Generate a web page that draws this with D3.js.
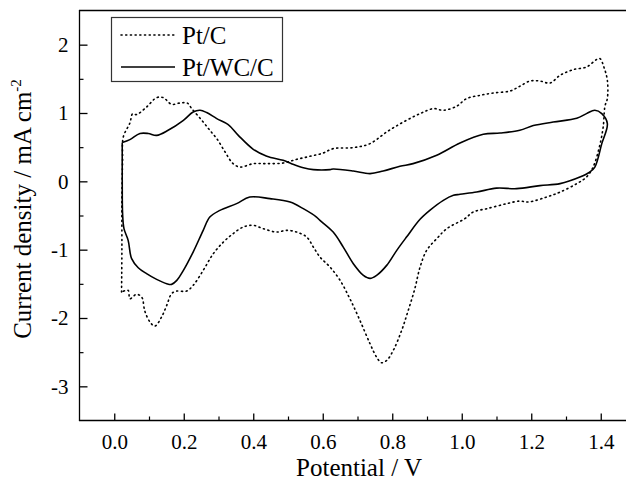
<!DOCTYPE html>
<html>
<head>
<meta charset="utf-8">
<script src="https://cdn.jsdelivr.net/npm/d3@7"></script>
<style>
html,body{margin:0;padding:0;background:#fff;overflow:hidden;}
svg{display:block;}
text{font-family:"Liberation Serif","Times New Roman",serif;fill:#000;}
</style>
</head>
<body>
<svg id="chart" width="626" height="482"></svg>
<script>
// ---- Data (Potential / V, Current density / mA cm-2) ----
const seriesNames = ["Pt/C", "Pt/WC/C"];

const ptcPotential = [0.021,0.022,0.022,0.024,0.026,0.045,0.053,0.064,0.093,0.122,0.141,0.165,0.189,0.21,0.223,0.252,0.275,0.295,0.319,0.342,0.362,0.40,0.439,0.486,0.525,0.563,0.601,0.63,0.688,0.736,0.784,0.832,0.88,0.918,0.947,0.985,1.014,1.053,1.091,1.139,1.167,1.196,1.225,1.254,1.283,1.321,1.359,1.388,1.398,1.409,1.419,1.419,1.412,1.407,1.396,1.378,1.359,1.331,1.283,1.244,1.191,1.167,1.129,1.072,1.033,1.009,0.957,0.928,0.899,0.88,0.865,0.846,0.827,0.803,0.784,0.769,0.755,0.736,0.707,0.678,0.65,0.621,0.592,0.573,0.554,0.525,0.496,0.467,0.429,0.40,0.371,0.342,0.314,0.285,0.256,0.227,0.208,0.18,0.165,0.151,0.136,0.117,0.103,0.088,0.079,0.064,0.045,0.04,0.021];
const ptcCurrent = [-1.62,-1.01,-0.28,0.31,0.649,0.854,0.991,0.977,1.088,1.225,1.225,1.127,1.146,1.146,1.064,0.893,0.747,0.625,0.429,0.259,0.209,0.259,0.259,0.268,0.322,0.366,0.414,0.479,0.493,0.552,0.722,0.868,0.991,1.064,1.04,1.098,1.211,1.259,1.293,1.322,1.391,1.468,1.468,1.439,1.552,1.635,1.673,1.782,1.796,1.673,1.479,1.211,1.098,0.795,0.502,0.209,0.063,-0.034,-0.157,-0.23,-0.303,-0.288,-0.327,-0.40,-0.449,-0.546,-0.693,-0.839,-1.01,-1.255,-1.571,-1.889,-2.182,-2.474,-2.621,-2.655,-2.572,-2.376,-2.035,-1.717,-1.45,-1.255,-1.108,-0.962,-0.816,-0.742,-0.717,-0.742,-0.693,-0.644,-0.669,-0.766,-0.889,-1.059,-1.303,-1.523,-1.606,-1.606,-1.644,-1.815,-1.987,-2.119,-2.06,-1.899,-1.694,-1.654,-1.717,-1.596,-1.62];

const ptwcPotential = [0.023,0.045,0.074,0.098,0.122,0.155,0.199,0.227,0.247,0.266,0.295,0.328,0.357,0.40,0.439,0.486,0.51,0.544,0.573,0.621,0.63,0.688,0.736,0.774,0.822,0.86,0.928,0.995,1.062,1.11,1.167,1.206,1.263,1.331,1.359,1.383,1.403,1.419,1.403,1.383,1.368,1.34,1.283,1.225,1.158,1.10,1.043,0.995,0.976,0.947,0.908,0.88,0.841,0.813,0.784,0.755,0.736,0.717,0.688,0.659,0.63,0.592,0.582,0.544,0.506,0.448,0.39,0.352,0.304,0.275,0.256,0.227,0.199,0.18,0.165,0.151,0.122,0.093,0.069,0.05,0.04,0.028,0.024,0.023,0.023];
const ptwcCurrent = [0.567,0.61,0.70,0.70,0.673,0.747,0.893,1.015,1.04,1.006,0.918,0.83,0.673,0.469,0.366,0.307,0.259,0.20,0.171,0.171,0.18,0.151,0.113,0.151,0.22,0.259,0.381,0.561,0.688,0.707,0.747,0.816,0.868,0.922,0.991,1.04,0.991,0.845,0.552,0.209,0.136,0.063,-0.034,-0.063,-0.107,-0.10,-0.157,-0.19,-0.205,-0.278,-0.425,-0.556,-0.816,-1.01,-1.23,-1.376,-1.42,-1.376,-1.205,-0.962,-0.742,-0.571,-0.523,-0.40,-0.303,-0.253,-0.23,-0.326,-0.425,-0.523,-0.717,-1.035,-1.303,-1.45,-1.508,-1.498,-1.435,-1.351,-1.264,-1.132,-0.864,-0.693,-0.473,0.015,0.567];

const xTickValues = [0.0,0.2,0.4,0.6,0.8,1.0,1.2,1.4];
const xTickLabels = ["0.0","0.2","0.4","0.6","0.8","1.0","1.2","1.4"];
const xMinorTicks = [0.1,0.3,0.5,0.7,0.9,1.1,1.3];
const yTickValues = [2,1,0,-1,-2,-3];
const yTickLabels = ["2","1","0","-1","-2","-3"];
const yMinorTicks = [1.5,0.5,-0.5,-1.5,-2.5];

// ---- Layout ----
const serif = '"Liberation Serif","Times New Roman",serif';
const W = 626;
const svg = d3.select("#chart");
svg.append("rect").attr("x", 0).attr("y", 0).attr("width", W).attr("height", 482).attr("fill", "#fff");
const padLeft = 79.5, padTop = 10.5, padBottom = 420.5;
const x = d3.scaleLinear().domain([-0.1, 1.5]).range([padLeft, padLeft + 1.6 * 347.5]);
const y = d3.scaleLinear().domain([-3.5, 2.5]).range([padBottom, padTop]);
const rightEdge = Math.min(x(1.5), W);

// frame: left, top, bottom (right side lies beyond the picture)
const frame = svg.append("g").attr("stroke", "#000").attr("stroke-width", 1.3);
frame.append("line").attr("x1", x(-0.1)).attr("x2", x(-0.1)).attr("y1", y(2.5)).attr("y2", y(-3.5));
frame.append("line").attr("x1", x(-0.1) - 0.6).attr("x2", rightEdge).attr("y1", y(2.5)).attr("y2", y(2.5));
frame.append("line").attr("x1", x(-0.1) - 0.6).attr("x2", rightEdge).attr("y1", y(-3.5)).attr("y2", y(-3.5));

// x axis ticks (inward)
const xAxis = d3.axisBottom(x).tickValues(xTickValues)
  .tickFormat((d, i) => xTickLabels[i]).tickSizeInner(-7).tickSizeOuter(0).tickPadding(14);
const gx = svg.append("g").attr("transform", `translate(0,${padBottom})`).call(xAxis)
  .attr("font-family", serif).attr("font-size", 21);
gx.select(".domain").remove();
gx.selectAll("line").attr("stroke-width", 1.3);
gx.selectAll("text").attr("dy", "0.71em").attr("font-family", serif).attr("font-size", 21)
  .style("font-family", serif);

const xAxisMinor = d3.axisBottom(x).tickValues(xMinorTicks).tickFormat("").tickSizeInner(-4).tickSizeOuter(0);
const gxm = svg.append("g").attr("transform", `translate(0,${padBottom})`).call(xAxisMinor);
gxm.select(".domain").remove();
gxm.selectAll("line").attr("stroke-width", 1.2);

// y axis ticks (inward)
const yAxis = d3.axisLeft(y).tickValues(yTickValues)
  .tickFormat((d, i) => yTickLabels[i]).tickSizeInner(-8).tickSizeOuter(0).tickPadding(11);
const gy = svg.append("g").attr("transform", `translate(${padLeft},0)`).call(yAxis)
  .attr("font-family", serif).attr("font-size", 21);
gy.select(".domain").remove();
gy.selectAll("line").attr("stroke-width", 1.3);
gy.selectAll("text").attr("font-family", serif).attr("font-size", 21).style("font-family", serif);

const yAxisMinor = d3.axisLeft(y).tickValues(yMinorTicks).tickFormat("").tickSizeInner(-4).tickSizeOuter(0);
const gym = svg.append("g").attr("transform", `translate(${padLeft},0)`).call(yAxisMinor);
gym.select(".domain").remove();
gym.selectAll("line").attr("stroke-width", 1.2);

// axis titles
svg.append("text").attr("x", 359).attr("y", 476).attr("text-anchor", "middle")
  .attr("font-size", 25).text("Potential / V");

const yl = svg.append("text").attr("transform", "translate(31,209) rotate(-90)")
  .attr("text-anchor", "middle").attr("font-size", 25);
yl.append("tspan").text("Current density / mA cm");
yl.append("tspan").attr("font-size", 15).attr("dy", -10).text("-2");

// curves
svg.append("clipPath").attr("id", "clip").append("rect")
  .attr("x", x(-0.1)).attr("y", y(2.5)).attr("width", rightEdge - 3 - x(-0.1)).attr("height", y(-3.5) - y(2.5));

const line = d3.line().x(d => x(d[0])).y(d => y(d[1])).curve(d3.curveCatmullRom.alpha(0.5));

const ptcData = ptcPotential.map((v, i) => [v, ptcCurrent[i]]);
const ptwcData = ptwcPotential.map((v, i) => [v, ptwcCurrent[i]]);

const plot = svg.append("g").attr("clip-path", "url(#clip)");
plot.append("path").datum(ptcData).attr("d", line)
  .attr("fill", "none").attr("stroke", "#000").attr("stroke-width", 1.6)
  .attr("stroke-dasharray", "1.1 3.6").attr("stroke-linecap", "round");
plot.append("path").datum(ptwcData).attr("d", line)
  .attr("fill", "none").attr("stroke", "#000").attr("stroke-width", 1.6);

// legend
const lg = svg.append("g");
lg.append("rect").attr("x", 111.5).attr("y", 17.5).attr("width", 171).attr("height", 64)
  .attr("fill", "#fff").attr("stroke", "#333").attr("stroke-width", 1.2);
const legendStyles = [
  {dash: "1.1 3.6", cap: "round"},
  {dash: null, cap: "butt"}
];
seriesNames.forEach((name, i) => {
  const cy = 35 + i * 32;
  lg.append("line").attr("x1", 121).attr("x2", 175).attr("y1", cy).attr("y2", cy)
    .attr("stroke", "#000").attr("stroke-width", 1.6)
    .attr("stroke-dasharray", legendStyles[i].dash).attr("stroke-linecap", legendStyles[i].cap);
  lg.append("text").attr("x", 182).attr("y", cy + 9).attr("font-size", 25).text(name);
});
</script>
</body>
</html>
